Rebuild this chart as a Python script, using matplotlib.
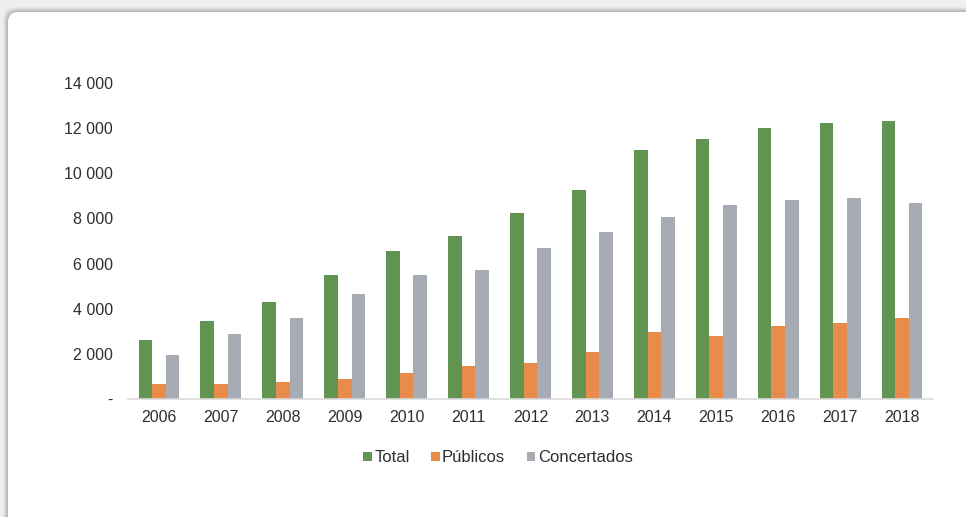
import matplotlib
matplotlib.use("Agg")
import matplotlib.pyplot as plt
from matplotlib.patches import FancyBboxPatch
from matplotlib.ticker import FuncFormatter
import numpy as np

years = ["2006", "2007", "2008", "2009", "2010", "2011", "2012",
         "2013", "2014", "2015", "2016", "2017", "2018"]
total = [2620, 3470, 4310, 5480, 6550, 7230, 8240, 9260, 11040, 11500, 11990, 12240, 12330]
publicos = [650, 650, 770, 890, 1140, 1480, 1610, 2070, 2990, 2790, 3240, 3380, 3600]
concertados = [1950, 2870, 3590, 4650, 5480, 5730, 6680, 7380, 8070, 8580, 8800, 8890, 8670]

series_names = ["Total", "Públicos", "Concertados"]
series_colors = ["#609450", "#e98b4a", "#a6abb4"]

plt.rcParams["font.family"] = ["Liberation Sans", "DejaVu Sans"]

W, H = 966, 517
fig = plt.figure(figsize=(W / 100, H / 100), dpi=100)
fig.patch.set_facecolor("#efefef")

# card with a soft shadow (pixel coordinates)
for i, a in enumerate([0.03, 0.04, 0.05, 0.06, 0.07]):
    off = 5 - i
    fig.add_artist(FancyBboxPatch((8 - off, -40), W + 40, H - 12 + 40 + off,
                                  boxstyle="round,pad=0,rounding_size=12",
                                  transform=None, facecolor="black", alpha=a,
                                  edgecolor="none", zorder=0))
fig.add_artist(FancyBboxPatch((8, -40), W + 40, H - 12 + 40,
                              boxstyle="round,pad=0,rounding_size=10",
                              transform=None, facecolor="white",
                              edgecolor="none", zorder=0))

ax = fig.add_axes([128 / W, 1 - 399 / H, (933 - 128) / W, (399 - 83) / H])
ax.set_facecolor("none")

x = np.arange(len(years))
bw = 0.22
for k, (vals, name, col) in enumerate(zip([total, publicos, concertados],
                                           series_names, series_colors)):
    ax.bar(x + (k - 1) * bw, vals, width=bw, color=col, label=name, zorder=2)

ax.set_xlim(-0.5, len(years) - 0.5)
ax.set_ylim(0, 14000)
ax.set_yticks(np.arange(0, 14001, 2000))


def fmt(v, pos):
    if v == 0:
        return "-"
    return f"{int(v):,}".replace(",", " ")


ax.yaxis.set_major_formatter(FuncFormatter(fmt))
ax.set_xticks(x)
ax.set_xticklabels(years)

for s in ["top", "right", "left"]:
    ax.spines[s].set_visible(False)
ax.spines["bottom"].set_color("#d9d9d9")
ax.spines["bottom"].set_linewidth(1.2)
ax.tick_params(axis="both", length=0, labelsize=11.5, colors="#2e2e2e")
ax.tick_params(axis="y", pad=11)
ax.tick_params(axis="x", pad=8)

fig.legend(loc="center", bbox_to_anchor=(498 / W, 1 - 458 / H), ncol=3,
           frameon=False, fontsize=12, handlelength=0.5, handleheight=0.5,
           handletextpad=0.15, columnspacing=1.3, labelcolor="#2e2e2e")

fig.savefig("out.png", dpi=100, facecolor=fig.get_facecolor())
